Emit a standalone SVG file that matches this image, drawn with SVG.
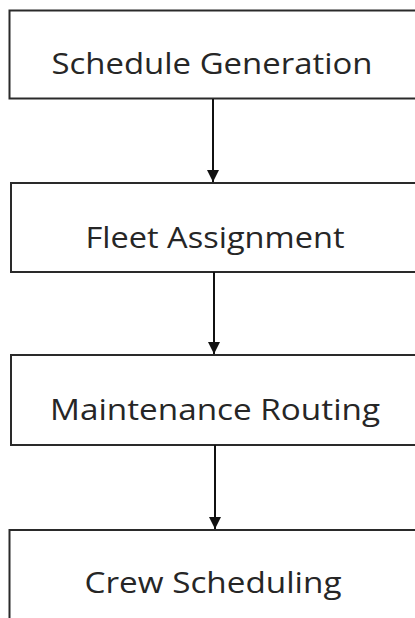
<svg xmlns="http://www.w3.org/2000/svg" width="415" height="618" viewBox="0 0 415 618">
<defs>
<style>
.box{fill:#fff;stroke:#2a2a2a;stroke-width:2}
.lbl{font-family:"Open Sans","Liberation Sans",sans-serif;font-size:29px;fill:#262626;text-anchor:middle}
.conn{stroke:#111;stroke-width:2;fill:none}
</style>
<marker id="ah" viewBox="0 0 12 13" refX="12" refY="6" markerWidth="12" markerHeight="13" markerUnits="userSpaceOnUse" orient="auto"><path d="M0,0 L12,6 L0,12 Z" fill="#111"/></marker>
</defs>
<rect width="415" height="618" fill="#fff"/>
<g id="schedule-generation"><rect class="box" x="9.5" y="10.5" width="420" height="88"/><text class="lbl" x="212" y="74" textLength="321" lengthAdjust="spacingAndGlyphs">Schedule Generation</text></g>
<g id="fleet-assignment"><rect class="box" x="11" y="183" width="420" height="89"/><text class="lbl" x="215" y="248" textLength="259" lengthAdjust="spacingAndGlyphs">Fleet Assignment</text></g>
<g id="maintenance-routing"><rect class="box" x="11" y="355" width="420" height="90"/><text class="lbl" x="215" y="420" textLength="330" lengthAdjust="spacingAndGlyphs">Maintenance Routing</text></g>
<g id="crew-scheduling"><rect class="box" x="9.5" y="530" width="420" height="100"/><text class="lbl" x="213" y="593" textLength="257" lengthAdjust="spacingAndGlyphs">Crew Scheduling</text></g>
<g id="connectors">
<line class="conn" x1="213" y1="99" x2="213" y2="182" marker-end="url(#ah)"/>
<line class="conn" x1="214" y1="272" x2="214" y2="354" marker-end="url(#ah)"/>
<line class="conn" x1="215" y1="445" x2="215" y2="529" marker-end="url(#ah)"/>
</g>
</svg>
